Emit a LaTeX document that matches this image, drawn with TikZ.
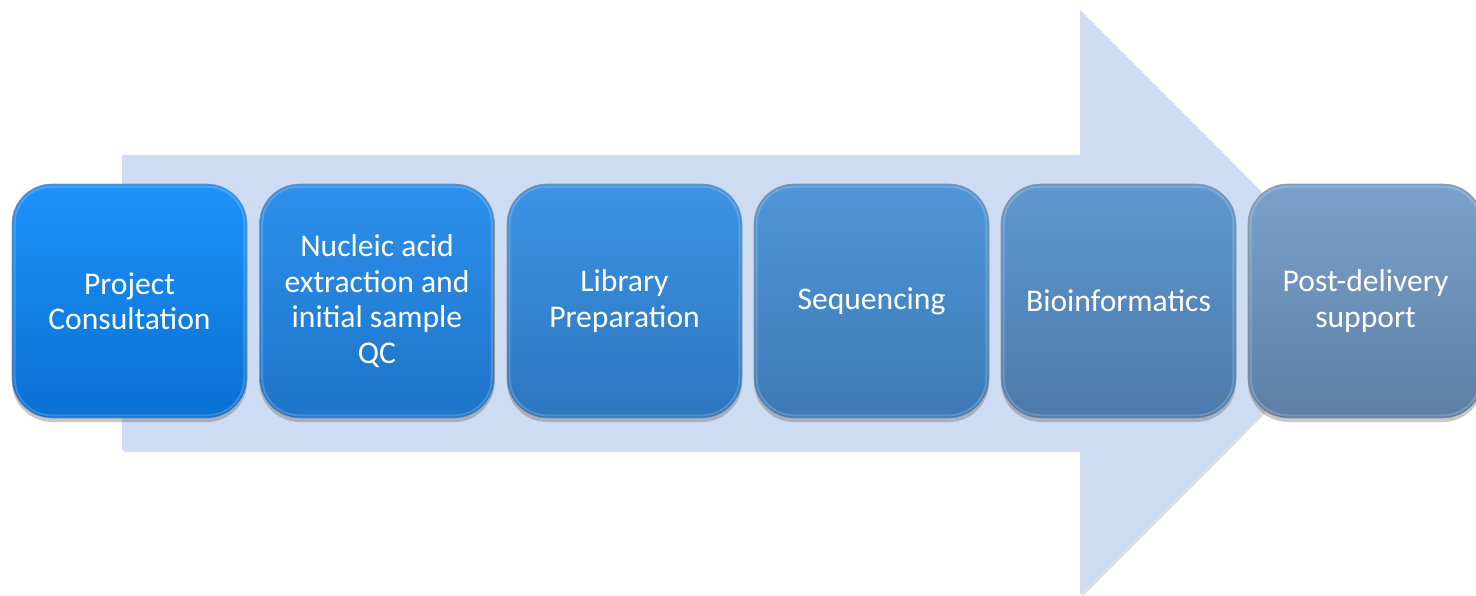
\documentclass[tikz,border=0pt]{standalone}
\usepackage{fontspec}
\setmainfont{Carlito}
\usetikzlibrary{shadows,positioning}
\definecolor{arrowfill}{HTML}{CDDCF3}
\definecolor{tA}{HTML}{1C92FA}\definecolor{bA}{HTML}{0A70D2}
\definecolor{tB}{HTML}{2C90EC}\definecolor{bB}{HTML}{1E74C8}
\definecolor{tC}{HTML}{3C93E4}\definecolor{bC}{HTML}{2D76BE}
\definecolor{tD}{HTML}{4F96D8}\definecolor{bD}{HTML}{3D79B6}
\definecolor{tE}{HTML}{5F98CF}\definecolor{bE}{HTML}{4C79AC}
\definecolor{tF}{HTML}{7BA2CC}\definecolor{bF}{HTML}{5E7EA5}
\tikzset{
  stepbox/.style={rounded corners=40pt, minimum width=235pt, minimum height=234pt,
    align=center, text=white, font=\fontsize{31.6}{35.5}\selectfont,
    draw=black!40, line width=0.6pt,
    drop shadow={shadow xshift=0pt, shadow yshift=-4pt, opacity=0.3, fill=black!70}},
  bigarrow/.style={fill=arrowfill, draw=none,
    drop shadow={shadow xshift=2pt, shadow yshift=-2pt, opacity=0.25, fill=black!50}}
}
\begin{document}
\begin{tikzpicture}[x=1pt,y=-1pt]
\useasboundingbox (0,0) rectangle (1476,595);
\fill[white] (0,0) rectangle (1476,595);
% big arrow
\coordinate (a1) at (122,155);
\coordinate (a2) at (1080,155);
\coordinate (a3) at (1080,10);
\coordinate (tip) at (1372,302.5);
\coordinate (a5) at (1080,595);
\coordinate (a6) at (1080,450);
\coordinate (a7) at (122,450);
\path[bigarrow] (a1) -- (a2) -- (a3) -- (tip) -- (a5) -- (a6) -- (a7) -- cycle;
% boxes
\node[stepbox, top color=tA, bottom color=bA] (s1) at (129.5,301) {Project\\Consultation};
\node[stepbox, top color=tB, bottom color=bB] (s2) at (377,301) {Nucleic acid\\extraction and\\initial sample\\QC};
\node[stepbox, top color=tC, bottom color=bC] (s3) at (624.5,301) {Library\\Preparation};
\node[stepbox, top color=tD, bottom color=bD] (s4) at (871.5,301) {Sequencing};
\node[stepbox, top color=tE, bottom color=bE] (s5) at (1118.5,301) {Bioinformatics};
\node[stepbox, top color=tF, bottom color=bF] (s6) at (1365.5,301) {Post-delivery\\support};
% bevel highlight
\foreach \n in {s1,s2,s3,s4,s5,s6}{
  \draw[white, opacity=0.18, line width=2pt, rounded corners=37pt]
    ([xshift=3pt,yshift=-3pt]\n.north west) rectangle ([xshift=-3pt,yshift=3pt]\n.south east);
}
\end{tikzpicture}
\end{document}
